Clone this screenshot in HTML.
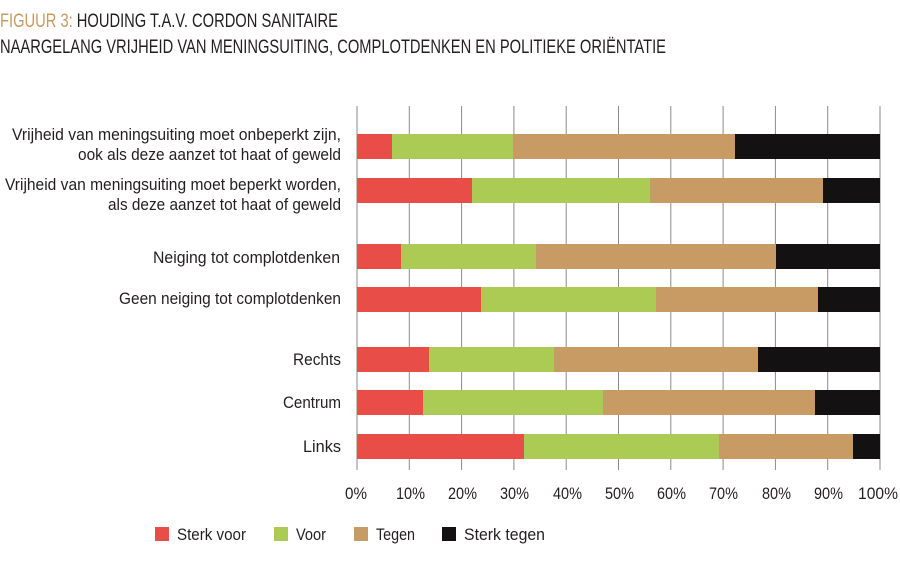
<!DOCTYPE html><html><head><style>body{margin:0;background:#fff}svg text{font-family:"Liberation Sans Narrow","Liberation Sans",sans-serif}</style></head><body>
<svg width="900" height="572" xmlns="http://www.w3.org/2000/svg">
<text x="0" y="27" font-size="19" fill="#231f20" textLength="338" lengthAdjust="spacingAndGlyphs"><tspan fill="#c8995f">FIGUUR 3:</tspan> HOUDING T.A.V. CORDON SANITAIRE</text>
<text x="0" y="53" font-size="19" fill="#231f20" textLength="666" lengthAdjust="spacingAndGlyphs">NAARGELANG VRIJHEID VAN MENINGSUITING, COMPLOTDENKEN EN POLITIEKE ORIËNTATIE</text>
<g stroke="#8a8a8a" stroke-width="1">
<line x1="357" y1="106" x2="357" y2="470"/><line x1="409.3" y1="106" x2="409.3" y2="470"/><line x1="461.6" y1="106" x2="461.6" y2="470"/><line x1="513.9" y1="106" x2="513.9" y2="470"/><line x1="566.2" y1="106" x2="566.2" y2="470"/><line x1="618.5" y1="106" x2="618.5" y2="470"/><line x1="670.8" y1="106" x2="670.8" y2="470"/><line x1="723.1" y1="106" x2="723.1" y2="470"/><line x1="775.4" y1="106" x2="775.4" y2="470"/><line x1="827.7" y1="106" x2="827.7" y2="470"/><line x1="880" y1="106" x2="880" y2="470"/>
</g>
<g>
<rect x="357" y="134" width="35" height="25" fill="#e84e47"/><rect x="392" y="134" width="121" height="25" fill="#abcb54"/><rect x="513" y="134" width="222" height="25" fill="#c79b63"/><rect x="735" y="134" width="145" height="25" fill="#131111"/>
<rect x="357" y="178" width="115" height="25" fill="#e84e47"/><rect x="472" y="178" width="178" height="25" fill="#abcb54"/><rect x="650" y="178" width="173" height="25" fill="#c79b63"/><rect x="823" y="178" width="57" height="25" fill="#131111"/>
<rect x="357" y="244" width="44" height="25" fill="#e84e47"/><rect x="401" y="244" width="135" height="25" fill="#abcb54"/><rect x="536" y="244" width="240" height="25" fill="#c79b63"/><rect x="776" y="244" width="104" height="25" fill="#131111"/>
<rect x="357" y="287" width="124" height="25" fill="#e84e47"/><rect x="481" y="287" width="175" height="25" fill="#abcb54"/><rect x="656" y="287" width="162" height="25" fill="#c79b63"/><rect x="818" y="287" width="62" height="25" fill="#131111"/>
<rect x="357" y="347" width="72" height="25" fill="#e84e47"/><rect x="429" y="347" width="125" height="25" fill="#abcb54"/><rect x="554" y="347" width="204" height="25" fill="#c79b63"/><rect x="758" y="347" width="122" height="25" fill="#131111"/>
<rect x="357" y="390" width="66" height="25" fill="#e84e47"/><rect x="423" y="390" width="180" height="25" fill="#abcb54"/><rect x="603" y="390" width="212" height="25" fill="#c79b63"/><rect x="815" y="390" width="65" height="25" fill="#131111"/>
<rect x="357" y="434" width="167" height="25" fill="#e84e47"/><rect x="524" y="434" width="195" height="25" fill="#abcb54"/><rect x="719" y="434" width="134" height="25" fill="#c79b63"/><rect x="853" y="434" width="27" height="25" fill="#131111"/>
</g>
<g font-size="17" fill="#231f20" lengthAdjust="spacingAndGlyphs">
<text x="12" y="140" textLength="329" lengthAdjust="spacingAndGlyphs">Vrijheid van meningsuiting moet onbeperkt zijn,</text>
<text x="78" y="160" textLength="263" lengthAdjust="spacingAndGlyphs">ook als deze aanzet tot haat of geweld</text>
<text x="5" y="190" textLength="336" lengthAdjust="spacingAndGlyphs">Vrijheid van meningsuiting moet beperkt worden,</text>
<text x="108" y="210" textLength="233" lengthAdjust="spacingAndGlyphs">als deze aanzet tot haat of geweld</text>
<text x="153" y="263" textLength="187" lengthAdjust="spacingAndGlyphs">Neiging tot complotdenken</text>
<text x="119" y="304" textLength="222" lengthAdjust="spacingAndGlyphs">Geen neiging tot complotdenken</text>
<text x="293" y="365" textLength="48" lengthAdjust="spacingAndGlyphs">Rechts</text>
<text x="283" y="408" textLength="58" lengthAdjust="spacingAndGlyphs">Centrum</text>
<text x="303" y="452" textLength="38" lengthAdjust="spacingAndGlyphs">Links</text>
</g>
<g font-size="17" fill="#231f20">
<text x="345" y="499" textLength="22" lengthAdjust="spacingAndGlyphs">0%</text>
<text x="396" y="499" textLength="29" lengthAdjust="spacingAndGlyphs">10%</text>
<text x="448" y="499" textLength="29" lengthAdjust="spacingAndGlyphs">20%</text>
<text x="500" y="499" textLength="29" lengthAdjust="spacingAndGlyphs">30%</text>
<text x="553" y="499" textLength="29" lengthAdjust="spacingAndGlyphs">40%</text>
<text x="605" y="499" textLength="29" lengthAdjust="spacingAndGlyphs">50%</text>
<text x="657" y="499" textLength="29" lengthAdjust="spacingAndGlyphs">60%</text>
<text x="709" y="499" textLength="29" lengthAdjust="spacingAndGlyphs">70%</text>
<text x="762" y="499" textLength="29" lengthAdjust="spacingAndGlyphs">80%</text>
<text x="814" y="499" textLength="29" lengthAdjust="spacingAndGlyphs">90%</text>
<text x="858" y="499" textLength="40" lengthAdjust="spacingAndGlyphs">100%</text>
</g>
<g font-size="17" fill="#231f20">
<rect x="155" y="527" width="14" height="14" fill="#e84e47"/><text x="177" y="540" textLength="69" lengthAdjust="spacingAndGlyphs">Sterk voor</text>
<rect x="274" y="527" width="14" height="14" fill="#abcb54"/><text x="296" y="540" textLength="30" lengthAdjust="spacingAndGlyphs">Voor</text>
<rect x="354" y="527" width="14" height="14" fill="#c79b63"/><text x="376" y="540" textLength="39" lengthAdjust="spacingAndGlyphs">Tegen</text>
<rect x="442" y="527" width="14" height="14" fill="#131111"/><text x="464" y="540" textLength="81" lengthAdjust="spacingAndGlyphs">Sterk tegen</text>
</g>
</svg></body></html>
